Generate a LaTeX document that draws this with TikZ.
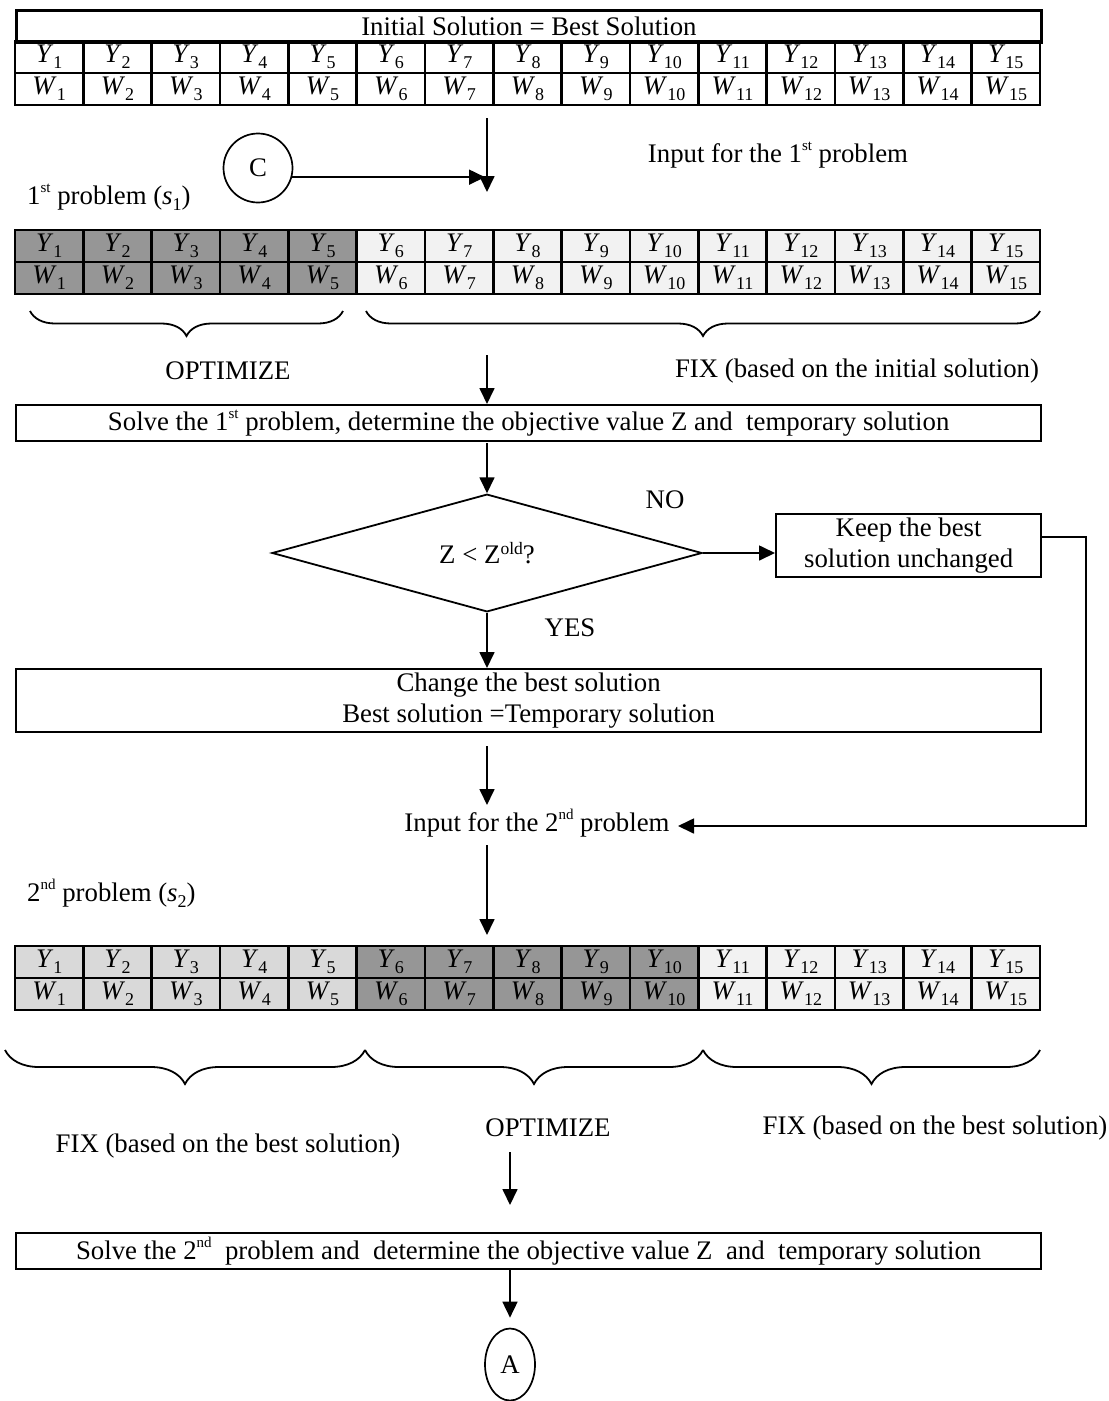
\documentclass[tikz,border=0pt]{standalone}
\usepackage{fontspec}
\setmainfont{Liberation Serif}
\usetikzlibrary{arrows.meta,shapes.geometric,decorations.pathreplacing,calc}

% italic variable with a lowered upright index
\newcommand\vsub[2]{\textit{#1}\raisebox{-0.22em}{\fontsize{18}{18}\selectfont #2}}
% small raised suffix (1st, 2nd)
\newcommand\sups[1]{\raisebox{0.45em}{\fontsize{15}{15}\selectfont #1}}
% raised label of the previous objective value
\newcommand\oldsup[1]{\raisebox{0.36em}{\fontsize{17.5}{17.5}\selectfont #1}}

\definecolor{darkcell}{gray}{0.59}
\definecolor{midcell}{gray}{0.85}
\definecolor{lightcell}{gray}{0.95}

\begin{document}
\begin{tikzpicture}[x=1pt,y=-1pt,
  every node/.style={font=\fontsize{26.8}{30.5}\selectfont},
  cell/.style={draw, line width=2.8pt, minimum width=68.333pt, minimum height=32pt, inner sep=0pt},
  box/.style={draw, line width=2.3pt, inner sep=0pt, align=center},
  arr/.style={line width=1.7pt, -{Triangle[length=16pt,width=15pt]}},
  brc/.style={line width=1.8pt, decorate, decoration={brace, mirror, amplitude=#1}},
  lbl/.style={inner sep=0pt},
]
\useasboundingbox (0,0) rectangle (1109,1401);

% ---------- initial solution table ----------
\node[cell, minimum width=1025pt, anchor=north west] (head) at (15,9) {Initial Solution = Best Solution};
\foreach \i in {1,...,15} {
  \node[cell] (a\i) at ({15+68.333*(\i-0.5)},57) {\vsub{Y}{\i}};
  \node[cell] (b\i) at ({15+68.333*(\i-0.5)},89) {\vsub{W}{\i}};
}

% ---------- input of the first problem ----------
\coordinate (in1top) at (487,118);
\coordinate (in1tip) at (487,192);
\draw[arr] (in1top) -- (in1tip);
\node[circle, draw, line width=1.7pt, minimum size=69pt, inner sep=0pt] (C) at (258,168) {C};
\coordinate (in1join) at (485,178);
\draw[arr] (C.-15) -- (C.-15 -| in1join);
\node[lbl] (in1) at (778,155) {Input for the 1\sups{st} problem};
\node[lbl, anchor=west] (pb1) at (27,197) {1\sups{st} problem (\vsub{s}{1})};

% ---------- first problem table ----------
\foreach \i in {1,...,5} {
  \node[cell, fill=darkcell] (c\i) at ({15+68.333*(\i-0.5)},246) {\vsub{Y}{\i}};
  \node[cell, fill=darkcell] (d\i) at ({15+68.333*(\i-0.5)},278) {\vsub{W}{\i}};
}
\foreach \i in {6,...,15} {
  \node[cell, fill=lightcell] (c\i) at ({15+68.333*(\i-0.5)},246) {\vsub{Y}{\i}};
  \node[cell, fill=lightcell] (d\i) at ({15+68.333*(\i-0.5)},278) {\vsub{W}{\i}};
}
\draw[brc=25pt] (30,311) -- (343,311);
\draw[brc=25pt] (366,311) -- (1040,311);
\node[lbl] (opt1) at (228,371) {OPTIMIZE};
\node[lbl] (fix1) at (857,371) {FIX (based on the initial solution)};

% ---------- solve and compare ----------
\node[box, minimum width=1025pt, minimum height=36pt, anchor=north west] (s1) at (15,404)
  {Solve the 1\sups{st} problem, determine the objective value Z and\ \ temporary solution};
\coordinate (s1top) at (487,355);
\draw[arr] (s1top) -- (s1top |- s1.north);

\node[diamond, draw, line width=1.8pt, minimum width=430pt, minimum height=96pt, inner sep=0pt] (dec) at (487,553) {Z < Z\oldsup{old}?};
\coordinate (s1bot) at (487,443);
\draw[arr] (s1bot) -- (dec.north);
\node[lbl] (no) at (665,500) {NO};
\node[lbl] (yes) at (570,628) {YES};

\node[box, minimum width=265pt, minimum height=63pt, anchor=north west] (keep) at (775,513)
  {Keep the best\\solution unchanged};
\draw[arr] (dec.east) -- (dec.east -| keep.west);

\node[box, minimum width=1025pt, minimum height=63pt, anchor=north west] (chg) at (15,668)
  {Change the best solution\\Best solution =Temporary solution};
\draw[arr] (dec.south) -- (dec.south |- chg.north);

% ---------- input of the second problem ----------
\node[lbl] (in2) at (537,823) {Input for the 2\sups{nd} problem};
\coordinate (chgbot) at (487,746);
\coordinate (in2tip) at (487,805);
\draw[arr] (chgbot) -- (in2tip);
\coordinate (keepout) at ($(keep.north east)!0.37!(keep.south east)$);
\coordinate (loopc) at (1086,826);
\coordinate (in2end) at (678,826);
\draw[arr] (keepout) -| (loopc) -- (in2end);
\coordinate (in2bot) at (487,845);
\coordinate (t3tip) at (487,935);
\draw[arr] (in2bot) -- (t3tip);
\node[lbl, anchor=west] (pb2) at (27,893) {2\sups{nd} problem (\vsub{s}{2})};

% ---------- second problem table ----------
\foreach \i in {1,...,5} {
  \node[cell, fill=midcell] (e\i) at ({15+68.333*(\i-0.5)},962) {\vsub{Y}{\i}};
  \node[cell, fill=midcell] (f\i) at ({15+68.333*(\i-0.5)},994) {\vsub{W}{\i}};
}
\foreach \i in {6,...,10} {
  \node[cell, fill=darkcell] (e\i) at ({15+68.333*(\i-0.5)},962) {\vsub{Y}{\i}};
  \node[cell, fill=darkcell] (f\i) at ({15+68.333*(\i-0.5)},994) {\vsub{W}{\i}};
}
\foreach \i in {11,...,15} {
  \node[cell, fill=lightcell] (e\i) at ({15+68.333*(\i-0.5)},962) {\vsub{Y}{\i}};
  \node[cell, fill=lightcell] (f\i) at ({15+68.333*(\i-0.5)},994) {\vsub{W}{\i}};
}
\draw[brc=34pt] (5,1050) -- (365,1050);
\draw[brc=34pt] (365,1050) -- (703,1050);
\draw[brc=34pt] (703,1050) -- (1040,1050);
\node[lbl] (fix2) at (228,1146) {FIX (based on the best solution)};
\node[lbl] (opt2) at (548,1128) {OPTIMIZE};
\node[lbl] (fix3) at (935,1128) {FIX (based on the best solution)};

% ---------- solve the second problem ----------
\node[box, minimum width=1025pt, minimum height=36pt, anchor=north west] (s2) at (15,1232)
  {Solve the 2\sups{nd}\ \ problem and\ \ determine the objective value Z\ \ and\ \ temporary solution};
\coordinate (s2top) at (510,1152);
\draw[arr] (s2top) -- (s2top |- 0,1205);
\node[ellipse, draw, line width=1.7pt, minimum width=50pt, minimum height=72pt, inner sep=0pt] (A) at (510,1364.5) {A};
\draw[arr] (s2.south -| A.north) -- ($(A.north)+(0,-10)$);
\end{tikzpicture}
\end{document}
